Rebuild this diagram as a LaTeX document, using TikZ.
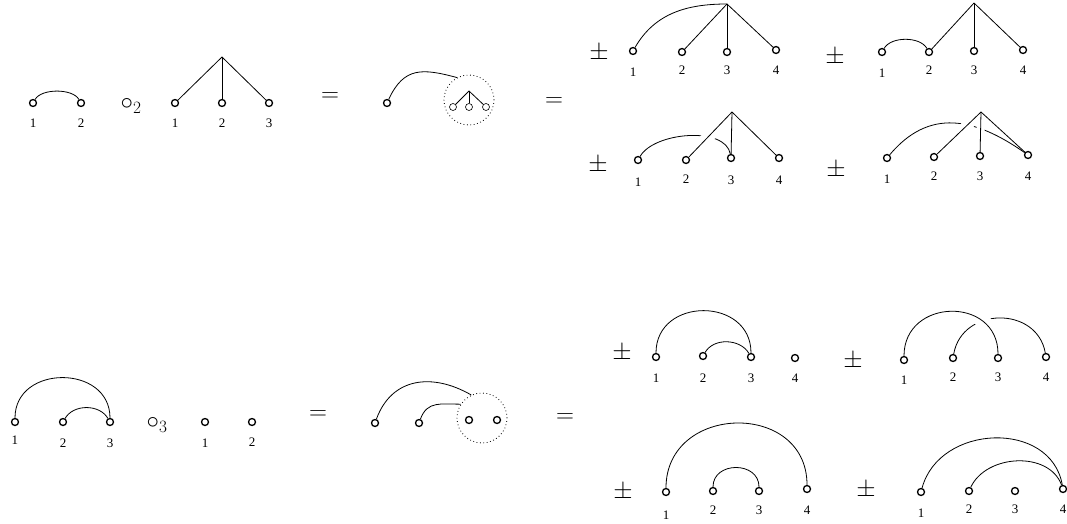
\documentclass[tikz,border=0pt]{standalone}
\usepackage{fontspec}
\setmainfont{Liberation Serif}
\begin{document}
\begin{tikzpicture}[x=1pt,y=1pt,
  v/.style={circle,draw,line width=1.3pt,inner sep=0pt,minimum size=7pt},
  sv/.style={circle,draw,line width=0.6pt,inner sep=0pt,minimum size=7pt},
  lab/.style={inner sep=0pt,font=\fontsize{13}{15}\selectfont},
  sym/.style={inner sep=0pt,font=\fontsize{23}{27}\selectfont},
  ln/.style={line width=0.8pt},
  dcirc/.style={circle,draw,line width=0.8pt,dash pattern=on 0.8pt off 2.6pt,minimum size=50pt,inner sep=0pt},
  over/.style={preaction={draw=white,line width=#1,shorten <=7pt}}]
\useasboundingbox (0,0) rectangle (1067,-524);

% ---------- top row ----------
% A
\node[v] (a1) at (33,-103) {};
\node[v] (a2) at (81,-103) {};
\node[lab] (la1) at (33,-123) {1};
\node[lab] (la2) at (81,-123) {2};
\draw[ln] (a1) to[out=60,in=120,looseness=0.75] (a2);
\node[sym] (o2) at (131,-106) {$\circ_2$};
% B
\coordinate (br) at (222,-57);
\node[v] (b1) at (175,-103) {};
\node[v] (b2) at (222,-103) {};
\node[v] (b3) at (269,-103) {};
\draw[ln] (br) -- (b1); \draw[ln] (br) -- (b2); \draw[ln] (br) -- (b3);
\node[lab] (lb1) at (175,-123) {1};
\node[lab] (lb2) at (222,-123) {2};
\node[lab] (lb3) at (269,-123) {3};
\node[sym] (eq1) at (330,-97) {$=$};
% C
\node[v] (c1) at (387,-103) {};
\node[dcirc] (cdc) at (469,-100) {};
\coordinate (cr) at (469,-91);
\node[sv] (cs1) at (453,-107) {};
\node[sv] (cs2) at (469,-107) {};
\node[sv] (cs3) at (486,-107) {};
\draw[ln] (cr) -- (cs1); \draw[ln] (cr) -- (cs2); \draw[ln] (cr) -- (cs3);
\draw[ln] (c1) to[out=65,in=165,looseness=1.28] (cdc.118);
\node[sym] (eq2) at (554,-102) {$=$};
% D1
\node[sym] (pm1) at (599,-53) {$\pm$};
\coordinate (d1r) at (727,-4);
\node[v] (d11) at (633,-51) {};
\node[v] (d12) at (682,-52) {};
\node[v] (d13) at (727,-52) {};
\node[v] (d14) at (776,-50) {};
\draw[ln] (d11) to[out=60,in=180,looseness=1.0] (d1r);
\draw[ln] (d1r) -- (d12); \draw[ln] (d1r) -- (d13); \draw[ln] (d1r) -- (d14);
\node[lab] (ld11) at (633,-72) {1};
\node[lab] (ld12) at (682,-70) {2};
\node[lab] (ld13) at (727,-70) {3};
\node[lab] (ld14) at (776,-70) {4};
% D2
\node[sym] (pm2) at (835,-57) {$\pm$};
\coordinate (d2r) at (974,-3);
\node[v] (d21) at (882,-52) {};
\node[v] (d22) at (929,-52) {};
\node[v] (d23) at (974,-51) {};
\node[v] (d24) at (1023,-50) {};
\draw[ln] (d21) to[out=60,in=120,looseness=0.84] (d22);
\draw[ln] (d2r) -- (d22); \draw[ln] (d2r) -- (d23); \draw[ln] (d2r) -- (d24);
\node[lab] (ld21) at (882,-73) {1};
\node[lab] (ld22) at (929,-70) {2};
\node[lab] (ld23) at (974,-70) {3};
\node[lab] (ld24) at (1023,-70) {4};
% D3
\node[sym] (pm3) at (598,-165) {$\pm$};
\coordinate (d3r) at (732,-112);
\node[v] (d31) at (638,-160) {};
\node[v] (d32) at (686,-160) {};
\node[v] (d33) at (731,-158) {};
\node[v] (d34) at (779,-158) {};
\draw[ln] (d31) to[out=60,in=100,looseness=0.8] (d33);
\draw[ln,over=12pt] (d3r) -- (d32);
\draw[ln] (d3r) -- (d33); \draw[ln] (d3r) -- (d34);
\node[lab] (ld31) at (638,-182) {1};
\node[lab] (ld32) at (686,-179) {2};
\node[lab] (ld33) at (731,-180) {3};
\node[lab] (ld34) at (779,-180) {4};
% D4
\node[sym] (pm4) at (836,-170) {$\pm$};
\coordinate (d4r) at (981,-112);
\node[v] (d41) at (887,-158) {};
\node[v] (d42) at (934,-157) {};
\node[v] (d43) at (980,-156) {};
\node[v] (d44) at (1028,-155) {};
\draw[ln] (d41) to[out=50,in=145,looseness=1.16] (d44);
\draw[ln,over=11pt] (d4r) -- (d42);
\draw[ln,over=8pt] (d4r) -- (d43);
\draw[ln] (d4r) -- (d44);
\node[lab] (ld41) at (887,-179) {1};
\node[lab] (ld42) at (934,-176) {2};
\node[lab] (ld43) at (980,-176) {3};
\node[lab] (ld44) at (1028,-176) {4};

% ---------- bottom row ----------
% E
\node[v] (e1) at (15,-422) {};
\node[v] (e2) at (63,-422) {};
\node[v] (e3) at (110,-422) {};
\draw[ln] (e1) to[out=90,in=90,looseness=1.45] (e3);
\draw[ln] (e2) to[out=60,in=120,looseness=1.0] (e3);
\node[lab] (le1) at (15,-440) {1};
\node[lab] (le2) at (63,-443) {2};
\node[lab] (le3) at (110,-443) {3};
\node[sym] (o3) at (157,-425) {$\circ_3$};
% F
\node[v] (f1) at (205,-422) {};
\node[v] (f2) at (252,-422) {};
\node[lab] (lf1) at (205,-443) {1};
\node[lab] (lf2) at (252,-442) {2};
\node[sym] (eq3) at (318,-415) {$=$};
% G
\node[v] (g1) at (375,-423) {};
\node[v] (g2) at (419,-423) {};
\node[dcirc] (gdc) at (482,-418) {};
\node[v] (gs1) at (469,-420) {};
\node[v] (gs2) at (497,-420) {};
\draw[ln] (g1) to[out=70,in=150,looseness=1.17] (gdc.115);
\draw[ln] (g2) to[out=70,in=180,looseness=1.17] (gdc.147);
\node[sym] (eq4) at (565,-418) {$=$};
% H1
\node[sym] (pm5) at (622,-353) {$\pm$};
\node[v] (h11) at (656,-357) {};
\node[v] (h12) at (703,-356) {};
\node[v] (h13) at (751,-357) {};
\node[v] (h14) at (795,-358) {};
\draw[ln] (h11) to[out=90,in=90,looseness=1.52] (h13);
\draw[ln] (h12) to[out=60,in=120,looseness=1.0] (h13);
\node[lab] (lh11) at (656,-378) {1};
\node[lab] (lh12) at (703,-378) {2};
\node[lab] (lh13) at (751,-378) {3};
\node[lab] (lh14) at (795,-378) {4};
% H2
\node[sym] (pm6) at (853,-361) {$\pm$};
\node[v] (h21) at (904,-360) {};
\node[v] (h22) at (953,-358) {};
\node[v] (h23) at (998,-358) {};
\node[v] (h24) at (1046,-357) {};
\draw[ln] (h22) to[out=80,in=100,looseness=1.34] (h24);
\draw[ln,over=14pt] (h21) to[out=90,in=90,looseness=1.58] (h23);
\node[lab] (lh21) at (904,-380) {1};
\node[lab] (lh22) at (953,-377) {2};
\node[lab] (lh23) at (998,-377) {3};
\node[lab] (lh24) at (1046,-377) {4};
% H3
\node[sym] (pm7) at (623,-492) {$\pm$};
\node[v] (h31) at (666,-492) {};
\node[v] (h32) at (713,-491) {};
\node[v] (h33) at (759,-491) {};
\node[v] (h34) at (807,-489) {};
\draw[ln] (h31) to[out=90,in=90,looseness=1.53] (h34);
\draw[ln] (h32) to[out=90,in=90,looseness=1.44] (h33);
\node[lab] (lh31) at (666,-515) {1};
\node[lab] (lh32) at (713,-510) {2};
\node[lab] (lh33) at (759,-510) {3};
\node[lab] (lh34) at (807,-510) {4};
% H4
\node[sym] (pm8) at (866,-490) {$\pm$};
\node[v] (h41) at (921,-492) {};
\node[v] (h42) at (969,-491) {};
\node[v] (h43) at (1015,-491) {};
\node[v] (h44) at (1063,-489) {};
\draw[ln] (h41) to[out=75,in=100,looseness=1.21] (h44);
\draw[ln] (h42) to[out=65,in=110,looseness=1.03] (h44);
\node[lab] (lh41) at (921,-513) {1};
\node[lab] (lh42) at (969,-509) {2};
\node[lab] (lh43) at (1015,-509) {3};
\node[lab] (lh44) at (1063,-509) {4};
\end{tikzpicture}
\end{document}
